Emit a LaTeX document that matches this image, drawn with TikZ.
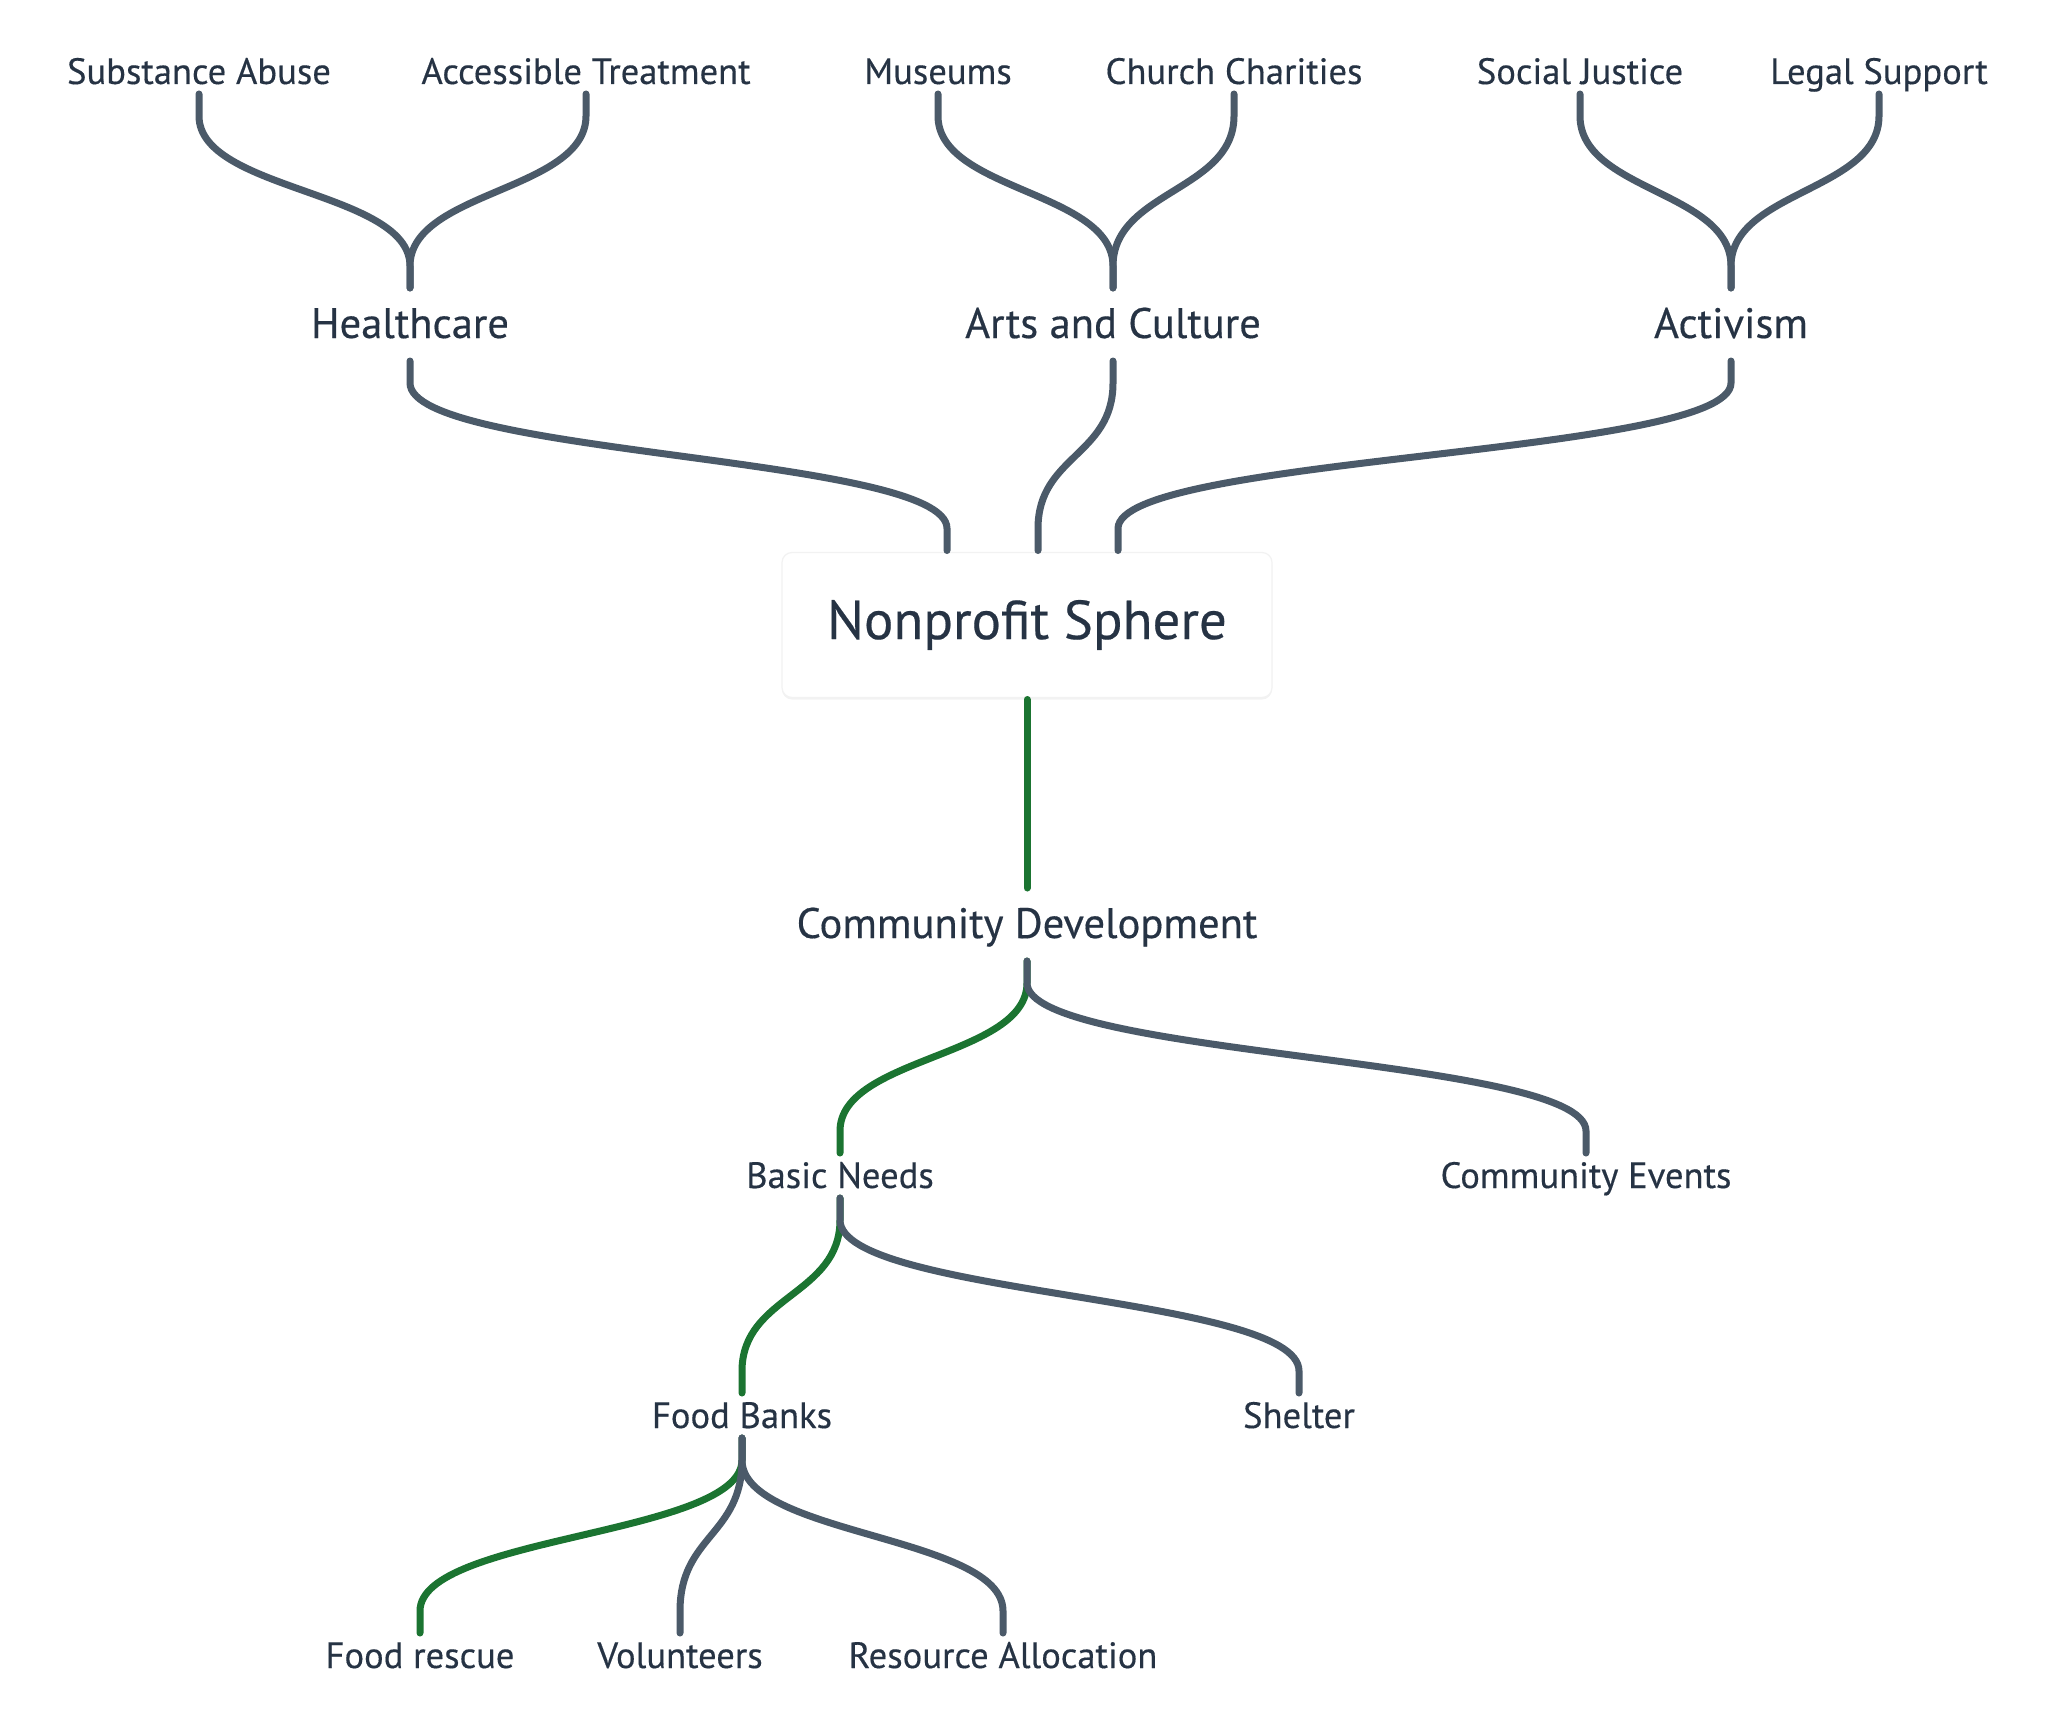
\documentclass[tikz,border=0pt]{standalone}
\usepackage{fontspec}
\setmainfont[FakeBold=0.35]{PT Sans}
\usetikzlibrary{calc,shadows}
\definecolor{txt}{HTML}{263344}
\definecolor{lnk}{HTML}{4B5A69}
\definecolor{grn}{HTML}{1B7431}
\newcommand\mmedge[3][lnk]{%
  \path (#2) ++(0,22) coordinate (e-s);
  \path (#3) ++(0,-22) coordinate (e-e);
  \path ($(e-s)!0.5!(e-e)$) coordinate (e-m);
  \draw[edge,draw=#1] (#2) -- (e-s) .. controls (e-s |- e-m) and (e-e |- e-m) .. (e-e) -- (#3);
}
\tikzset{
  edge/.style={line width=3.5pt, line cap=round},
  leaf/.style={font=\fontsize{18.3}{20}\selectfont, text=txt, inner sep=0pt, outer sep=0pt,
    text height=17.5pt, text depth=5pt, anchor=base},
  branch/.style={font=\fontsize{21.3}{24}\selectfont, text=txt, inner sep=0pt, outer sep=0pt,
    text height=25pt, text depth=11.5pt, anchor=base},
  rootbox/.style={rectangle, fill=white, draw=black!5, line width=0.6pt, rounded corners=5pt,
    minimum width=245pt, minimum height=72.5pt, inner sep=0pt, outer sep=1pt,
    font=\fontsize{27.4}{32}\selectfont, text=txt,
    drop shadow={shadow xshift=0pt, shadow yshift=-1pt, opacity=0.05, fill=black}}
}
\begin{document}
\begin{tikzpicture}[x=0.5pt, y=-0.5pt]
\fill[white] (0,0) rectangle (2056,1728);
\path[use as bounding box] (0,0) rectangle (2056,1728);

% top leaves
\node[leaf] (sa) at (199,84) {Substance Abuse};
\node[leaf] (at) at (586,84) {Accessible Treatment};
\node[leaf] (mu) at (938,84) {Museums};
\node[leaf] (cc) at (1234,84) {Church Charities};
\node[leaf] (sj) at (1580,84) {Social Justice};
\node[leaf] (ls) at (1879,84) {Legal Support};

% first level
\node[branch] (hc) at (410,338) {Healthcare};
\node[branch] (ac) at (1113,338) {Arts and Culture};
\node[branch] (av) at (1731,338) {Activism};

% root
\node[rootbox] (root) at (1027,625) {Nonprofit Sphere};

% lower part
\node[branch] (cd) at (1027,938) {Community Development};
\node[leaf] (bn) at (840,1188) {Basic Needs};
\node[leaf] (ce) at (1586,1188) {Community Events};
\node[leaf] (fb) at (742,1428) {Food Banks};
\node[leaf] (sh) at (1299,1428) {Shelter};
\node[leaf] (fr) at (420,1668) {Food rescue};
\node[leaf] (vo) at (680,1668) {Volunteers};
\node[leaf] (ra) at (1003,1668) {Resource Allocation};

% connectors
\mmedge{sa.south}{hc.north}
\mmedge{at.south}{hc.north}
\mmedge{mu.south}{ac.north}
\mmedge{cc.south}{ac.north}
\mmedge{sj.south}{av.north}
\mmedge{ls.south}{av.north}
\mmedge{hc.south}{[xshift=-40pt]root.north}
\mmedge{ac.south}{[xshift=5.5pt]root.north}
\mmedge{av.south}{[xshift=45.5pt]root.north}

\draw[edge, draw=grn] (root.south) -- (cd.north);
\mmedge[grn]{cd.south}{bn.north}
\mmedge[grn]{bn.south}{fb.north}
\mmedge[grn]{fb.south}{fr.north}
\mmedge{cd.south}{ce.north}
\mmedge{bn.south}{sh.north}
\mmedge{fb.south}{vo.north}
\mmedge{fb.south}{ra.north}
\end{tikzpicture}
\end{document}
